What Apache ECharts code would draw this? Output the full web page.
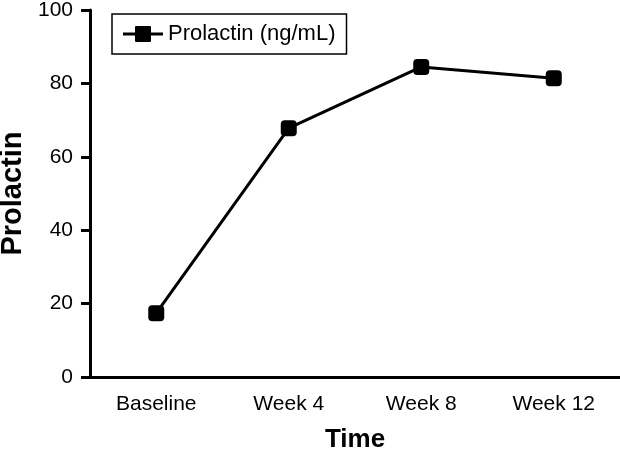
<!DOCTYPE html>
<html><head><meta charset="utf-8">
<script src="https://cdn.jsdelivr.net/npm/echarts@6/dist/echarts.min.js"></script>
<style>html,body{margin:0;padding:0;background:#fff}#c{width:620px;height:449px}</style>
</head><body><div id="c"></div>
<script>
const categories = ["Baseline", "Week 4", "Week 8", "Week 12"];
const prolactin = [17.4, 67.8, 84.5, 81.4];
const seriesName = "Prolactin (ng/mL)";
const yTicks = [0, 20, 40, 60, 80, 100];

const chart = echarts.init(document.getElementById('c'), null, {renderer: 'canvas'});
const font = 'Liberation Sans, Arial, sans-serif';
chart.setOption({
  animation: false,
  backgroundColor: '#fff',
  grid: {left: 90, right: 0, top: 10, bottom: 72, containLabel: false, outerBoundsMode: 'none'},
  legend: {
    data: [{name: seriesName, icon: 'path://M0,6.5 L12,6.5 L12,1 Q12,0 13,0 L27,0 Q28,0 28,1 L28,6.5 L40,6.5 L40,9.5 L28,9.5 L28,15 Q28,16 27,16 L13,16 Q12,16 12,15 L12,9.5 L0,9.5 Z'}],
    left: 112, top: 14,
    itemWidth: 40, itemHeight: 16, itemGap: 5,
    padding: [9, 11, 9, 11],
    borderColor: '#000', borderWidth: 1.5, borderRadius: 0,
    textStyle: {fontFamily: font, fontSize: 22, color: '#000', padding: [0, 0, 0, 0]}
  },
  xAxis: {
    type: 'category', data: categories, boundaryGap: true,
    name: 'Time', nameLocation: 'middle', nameGap: 50,
    nameTextStyle: {fontFamily: font, fontSize: 26, fontWeight: 'bold', color: '#000'},
    axisLine: {lineStyle: {color: '#000', width: 3}},
    axisTick: {alignWithLabel: true, length: 8, lineStyle: {width: 3, color: '#000'}},
    axisLabel: {fontFamily: font, fontSize: 21, color: '#000', margin: 17}
  },
  yAxis: {
    type: 'value', min: yTicks[0], max: yTicks[yTicks.length - 1], interval: 20,
    name: 'Prolactin', nameLocation: 'middle', nameGap: 58,
    nameTextStyle: {fontFamily: font, fontSize: 29, fontWeight: 'bold', color: '#000'},
    axisLine: {show: true, lineStyle: {color: '#000', width: 3}},
    axisTick: {show: true, length: 9, lineStyle: {width: 3, color: '#000'}},
    axisLabel: {fontFamily: font, fontSize: 21, color: '#000', margin: 17},
    splitLine: {show: false}
  },
  series: [{
    name: seriesName, type: 'line', data: prolactin,
    symbol: 'roundRect', symbolSize: 16,
    itemStyle: {color: '#000'},
    lineStyle: {color: '#000', width: 3}
  }]
});
</script></body></html>
